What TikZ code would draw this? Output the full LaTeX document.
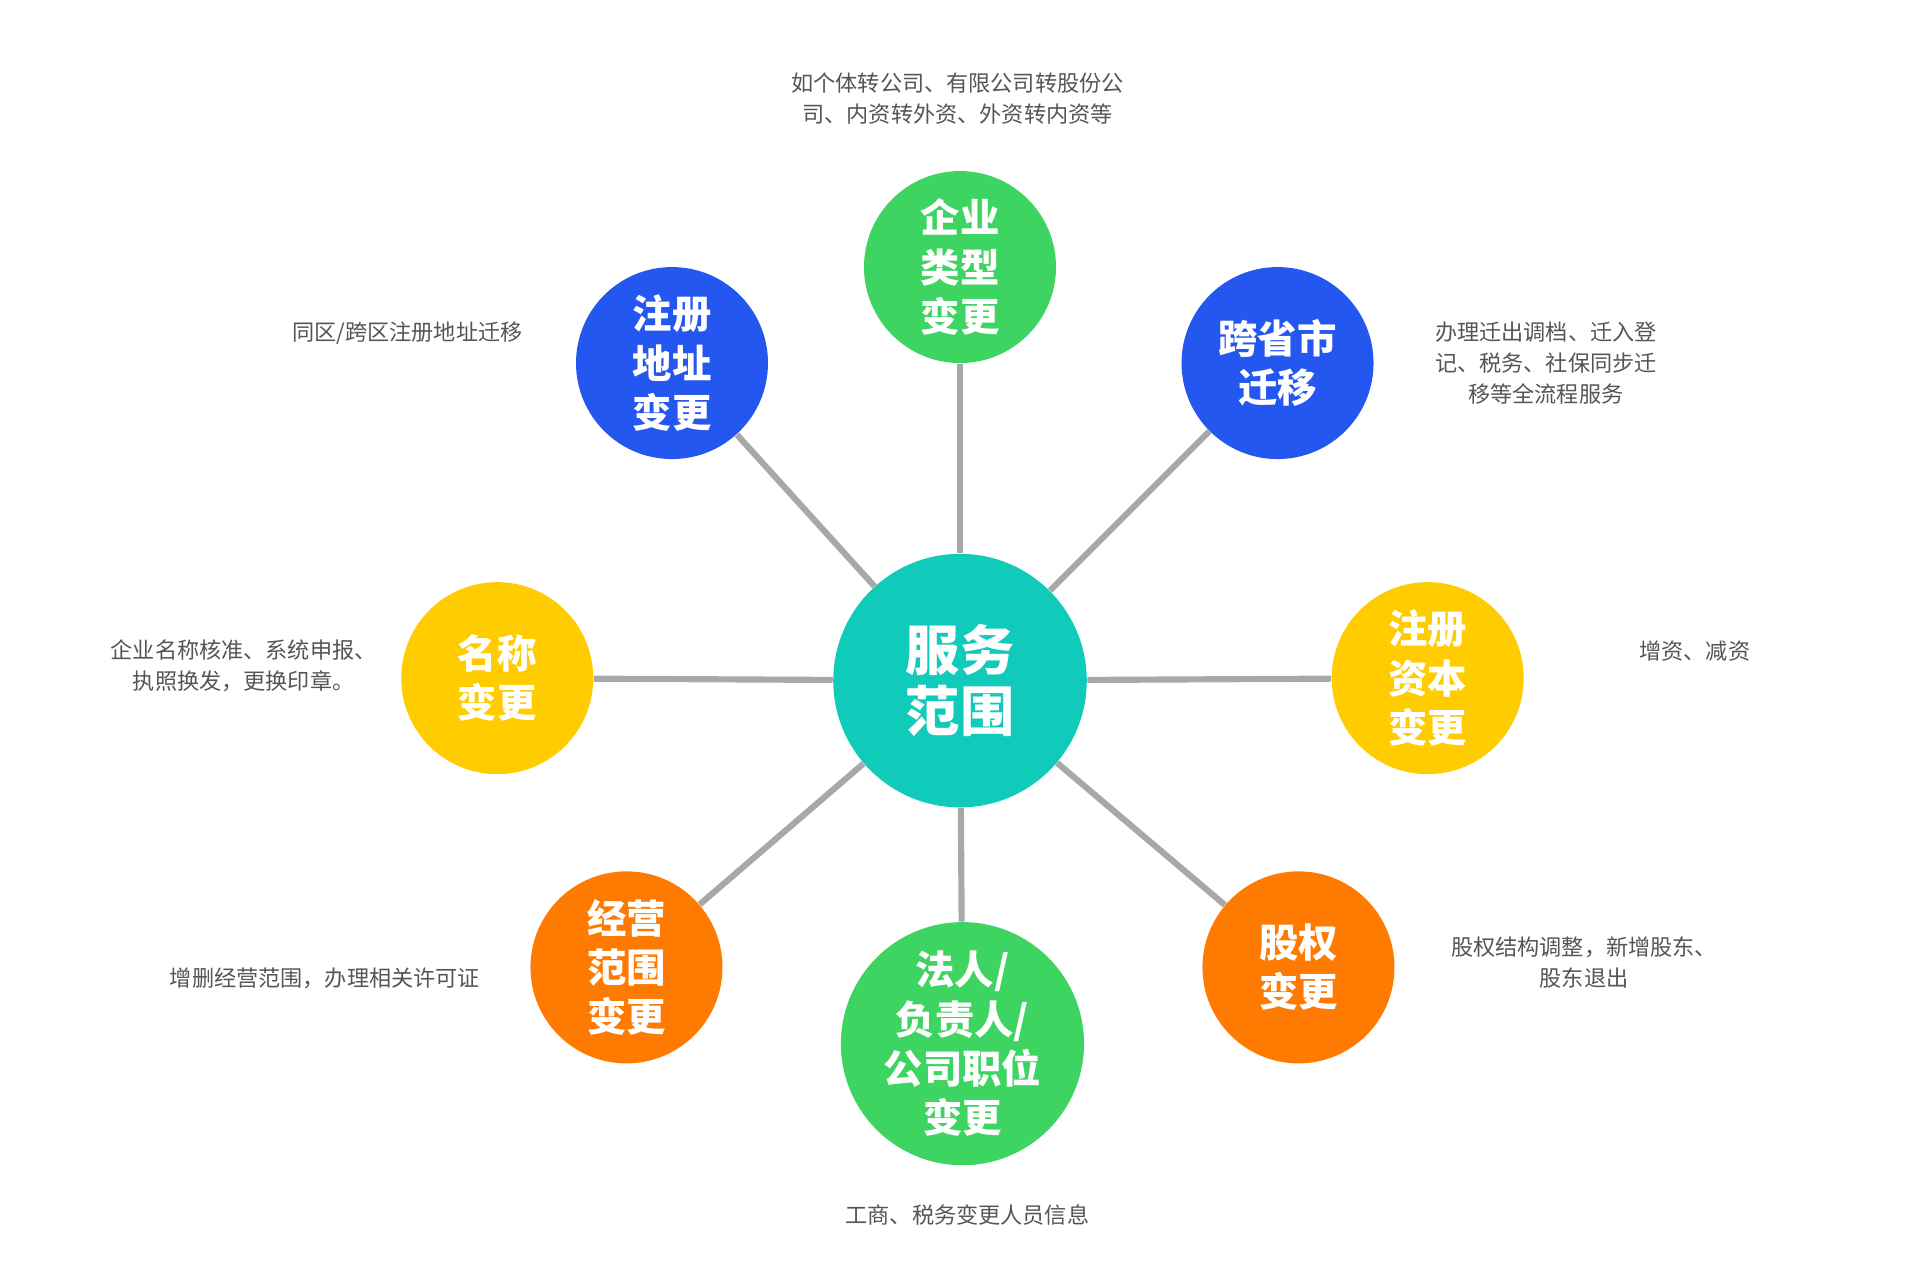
\documentclass[tikz,border=0pt]{standalone}
\usepackage{fontspec}
\setmainfont{Noto Sans CJK SC}
\definecolor{teal1}{HTML}{10CABA}
\definecolor{green1}{HTML}{3DD461}
\definecolor{blue1}{HTML}{2456F0}
\definecolor{yellow1}{HTML}{FFCC00}
\definecolor{orange1}{HTML}{FF7A00}
\definecolor{line1}{HTML}{A8A8A8}
\definecolor{txt1}{HTML}{555555}
\tikzset{
  bub/.style={circle,fill=#1,text=white,inner sep=0pt,minimum size=78pt,align=center,font=\fontsize{16}{20}\selectfont\bfseries},
  desc/.style={text=txt1,align=center,font=\fontsize{9}{12.5}\selectfont},
  spoke/.style={draw=line1,line width=2.5pt}
}
\begin{document}
\begin{tikzpicture}[x=0.5pt,y=-0.5pt]
\useasboundingbox[fill=white] (0,0) rectangle (1560,1043);
\node[bub=teal1,minimum size=103pt,font=\fontsize{22}{25}\selectfont\bfseries] (c) at (780,553) {服务\\范围};
\node[bub=green1] (t) at (780,217) {企业\\类型\\变更};
\node[bub=blue1] (tl) at (546,295) {注册\\地址\\变更};
\node[bub=blue1] (tr) at (1038,295) {跨省市\\迁移};
\node[bub=yellow1] (l) at (404,551) {名称\\变更};
\node[bub=yellow1] (r) at (1160,551) {注册\\资本\\变更};
\node[bub=orange1] (bl) at (509,786) {经营\\范围\\变更};
\node[bub=orange1] (br) at (1055,786) {股权\\变更};
\node[bub=green1,minimum size=90pt] (b) at (782,848) {法人/\\负责人/\\公司职位\\变更};
\begin{scope}[on background layer/.try]
\end{scope}
\foreach \n in {t,tl,tr,l,r,bl,br,b}{\path (c) -- (\n) coordinate[pos=0] (dummy);}
\begin{pgfinterruptboundingbox}\end{pgfinterruptboundingbox}
\draw[spoke] (c) -- (t);
\draw[spoke] (c) -- (tl);
\draw[spoke] (c) -- (tr);
\draw[spoke] (c) -- (l);
\draw[spoke] (c) -- (r);
\draw[spoke] (c) -- (bl);
\draw[spoke] (c) -- (br);
\draw[spoke] (c) -- (b);
\node[desc] (dt) at (778,80) {如个体转公司、有限公司转股份公\\司、内资转外资、外资转内资等};
\node[desc] (dtl) at (331,271) {同区/跨区注册地址迁移};
\node[desc] (dtr) at (1256,295) {办理迁出调档、迁入登\\记、税务、社保同步迁\\移等全流程服务};
\node[desc] (dl) at (198,541) {企业名称核准、系统申报、\\执照换发，更换印章。};
\node[desc] (dr) at (1377,529) {增资、减资};
\node[desc] (dbl) at (264,795) {增删经营范围，办理相关许可证};
\node[desc] (dbr) at (1287,782) {股权结构调整，新增股东、\\股东退出};
\node[desc] (db) at (786,987) {工商、税务变更人员信息};
\end{tikzpicture}
\end{document}
